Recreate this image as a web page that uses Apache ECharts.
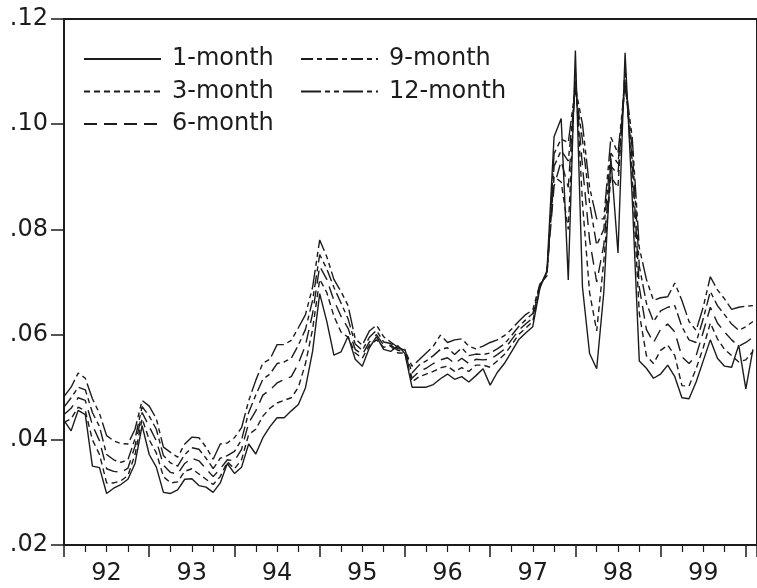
<!DOCTYPE html>
<html>
<head>
<meta charset="utf-8">
<script src="https://cdn.jsdelivr.net/npm/echarts@6/dist/echarts.min.js"></script>
<style>
  html, body { margin: 0; padding: 0; background: #fff; }
  #chart { width: 757px; height: 588px; }
</style>
</head>
<body>
<div id="chart"></div>
<script>
// monthly rates, Jan 1992 .. Feb 2000
var r1m = [
  0.0437,0.0417,0.0456,0.0448,0.0350,0.0347,0.0298,0.0308,0.0315,0.0325,0.0355,0.0427,
  0.0372,0.0348,0.0300,0.0298,0.0305,0.0325,0.0326,0.0313,0.0310,0.0300,0.0318,0.0355,
  0.0336,0.0348,0.0392,0.0373,0.0404,0.0425,0.0442,0.0442,0.0455,0.0467,0.0499,0.0568,
  0.0678,0.0625,0.0561,0.0567,0.0597,0.0553,0.0540,0.0575,0.0596,0.0572,0.0568,0.0579,
  0.0564,0.0500,0.0500,0.0500,0.0505,0.0516,0.0525,0.0515,0.0520,0.0510,0.0522,0.0535,
  0.0504,0.0528,0.0545,0.0567,0.0590,0.0603,0.0615,0.0688,0.0722,0.0976,0.1011,0.0704,
  0.1140,0.0690,0.0564,0.0535,0.0680,0.0935,0.0755,0.1136,0.0860,0.0550,0.0536,0.0517,
  0.0525,0.0542,0.0520,0.0480,0.0478,0.0510,0.0550,0.0590,0.0555,0.0540,0.0538,0.0580,
  0.0497,0.0572
];
var r3m = [
  0.0433,0.0440,0.0462,0.0455,0.0400,0.0372,0.0318,0.0318,0.0322,0.0332,0.0372,0.0440,
  0.0400,0.0375,0.0330,0.0318,0.0320,0.0340,0.0345,0.0335,0.0325,0.0315,0.0330,0.0358,
  0.0345,0.0362,0.0410,0.0420,0.0445,0.0460,0.0470,0.0475,0.0480,0.0500,0.0545,0.0610,
  0.0705,0.0680,0.0635,0.0605,0.0595,0.0565,0.0555,0.0580,0.0590,0.0576,0.0578,0.0565,
  0.0565,0.0510,0.0520,0.0525,0.0530,0.0537,0.0540,0.0530,0.0537,0.0530,0.0542,0.0542,
  0.0538,0.0550,0.0562,0.0580,0.0600,0.0612,0.0625,0.0690,0.0720,0.0900,0.0890,0.0800,
  0.1100,0.0850,0.0680,0.0607,0.0740,0.0900,0.0880,0.1105,0.0900,0.0640,0.0560,0.0545,
  0.0570,0.0580,0.0560,0.0503,0.0502,0.0535,0.0575,0.0622,0.0592,0.0572,0.0560,0.0548,
  0.0552,0.0568
];
var r6m = [
  0.0448,0.0460,0.0480,0.0475,0.0428,0.0398,0.0345,0.0340,0.0338,0.0346,0.0388,0.0452,
  0.0425,0.0398,0.0352,0.0338,0.0335,0.0355,0.0365,0.0360,0.0345,0.0330,0.0345,0.0362,
  0.0360,0.0382,0.0432,0.0455,0.0485,0.0495,0.0508,0.0515,0.0520,0.0545,0.0580,0.0640,
  0.0730,0.0705,0.0665,0.0635,0.0612,0.0572,0.0562,0.0586,0.0600,0.0580,0.0580,0.0570,
  0.0568,0.0517,0.0530,0.0536,0.0545,0.0552,0.0556,0.0545,0.0555,0.0545,0.0553,0.0552,
  0.0553,0.0562,0.0572,0.0590,0.0608,0.0620,0.0632,0.0692,0.0718,0.0882,0.0930,0.0880,
  0.1080,0.0920,0.0780,0.0700,0.0770,0.0920,0.0905,0.1085,0.0930,0.0690,0.0610,0.0585,
  0.0610,0.0620,0.0605,0.0558,0.0545,0.0560,0.0605,0.0652,0.0622,0.0605,0.0590,0.0578,
  0.0585,0.0595
];
var r9m = [
  0.0462,0.0480,0.0500,0.0495,0.0452,0.0425,0.0372,0.0362,0.0357,0.0362,0.0402,0.0463,
  0.0445,0.0420,0.0370,0.0356,0.0350,0.0372,0.0385,0.0382,0.0365,0.0345,0.0365,0.0370,
  0.0378,0.0400,0.0452,0.0485,0.0515,0.0525,0.0545,0.0548,0.0555,0.0580,0.0610,0.0665,
  0.0752,0.0725,0.0690,0.0660,0.0630,0.0582,0.0570,0.0595,0.0608,0.0586,0.0583,0.0573,
  0.0572,0.0527,0.0542,0.0550,0.0560,0.0572,0.0575,0.0562,0.0575,0.0560,0.0563,0.0562,
  0.0565,0.0573,0.0582,0.0598,0.0615,0.0628,0.0640,0.0694,0.0715,0.0920,0.0950,0.0930,
  0.1065,0.0970,0.0850,0.0770,0.0800,0.0945,0.0925,0.1075,0.0955,0.0730,0.0660,0.0625,
  0.0645,0.0652,0.0655,0.0615,0.0590,0.0585,0.0630,0.0682,0.0655,0.0638,0.0620,0.0608,
  0.0615,0.0625
];
var r12m = [
  0.0482,0.0500,0.0527,0.0517,0.0478,0.0450,0.0408,0.0398,0.0393,0.0392,0.0420,0.0475,
  0.0464,0.0440,0.0386,0.0376,0.0367,0.0392,0.0405,0.0404,0.0386,0.0363,0.0392,0.0394,
  0.0404,0.0423,0.0474,0.0513,0.0546,0.0553,0.0581,0.0581,0.0589,0.0613,0.0638,0.0690,
  0.0780,0.0748,0.0705,0.0682,0.0655,0.0592,0.0580,0.0607,0.0618,0.0596,0.0586,0.0576,
  0.0570,0.0540,0.0552,0.0565,0.0578,0.0599,0.0585,0.0590,0.0592,0.0578,0.0573,0.0578,
  0.0585,0.0590,0.0598,0.0610,0.0625,0.0638,0.0647,0.0696,0.0712,0.0944,0.0972,0.0965,
  0.1070,0.1000,0.0880,0.0820,0.0820,0.0975,0.0945,0.1080,0.0975,0.0765,0.0705,0.0665,
  0.0670,0.0672,0.0698,0.0665,0.0625,0.0608,0.0652,0.0710,0.0685,0.0668,0.0648,0.0652,
  0.0654,0.0655
];
var names = ['1-month', '3-month', '6-month', '9-month', '12-month'];
var yearLabels = ['92', '93', '94', '95', '96', '97', '98', '99'];
var yTicks = [0.02, 0.04, 0.06, 0.08, 0.10, 0.12];

var startYear = 1992;
var ink = '#1c1c1c';
var font = 'DejaVu Sans';
// dash patterns per maturity
var dashes = ['solid', [6, 4], [13, 7], [12, 4, 5, 4], [20, 4, 5, 4, 5, 4]];

function toPoints(arr) {
  var pts = [];
  for (var i = 0; i < arr.length; i++) {
    pts.push([startYear + i / 12, arr[i]]);
  }
  return pts;
}

var chart = echarts.init(document.getElementById('chart'), null, { renderer: 'canvas' });

var allRates = [r1m, r3m, r6m, r9m, r12m];
var series = allRates.map(function (arr, k) {
  return {
    name: names[k],
    type: 'line',
    data: toPoints(arr),
    symbol: 'none',
    showSymbol: false,
    silent: true,
    animation: false,
    lineStyle: { color: ink, width: 1.4, type: dashes[k] }
  };
});

var legendBase = {
  orient: 'vertical',
  top: 47,
  padding: 0,
  itemWidth: 77,
  itemHeight: 14,
  itemGap: 8.5,
  selectedMode: false,
  itemStyle: { opacity: 0 },
  textStyle: { fontFamily: font, fontSize: 24, color: ink, padding: [0, 0, 0, 6] }
};

var option = {
  backgroundColor: '#fff',
  animation: false,
  color: [ink, ink, ink, ink, ink],
  grid: {
    left: 64, right: -3, top: 19, bottom: 43,
    show: true, borderColor: ink, borderWidth: 2
  },
  legend: [
    Object.assign({}, legendBase, { left: 83, data: names.slice(0, 3) }),
    Object.assign({}, legendBase, { left: 300, data: names.slice(3) })
  ],
  xAxis: [
    {
      type: 'value',
      min: startYear,
      max: 2000.131,
      interval: 1,
      axisLine: { show: true, lineStyle: { color: ink, width: 2 } },
      axisTick: { show: true, inside: false, length: 12, lineStyle: { color: ink, width: 1.5 } },
      minorTick: { show: true, splitNumber: 4, length: 7, lineStyle: { color: ink, width: 1.2 } },
      axisLabel: { show: false },
      splitLine: { show: false }
    },
    {
      type: 'value',
      position: 'bottom',
      min: startYear,
      max: 2000.131,
      interval: 0.5,
      axisLine: { show: false },
      axisTick: { show: false },
      splitLine: { show: false },
      axisLabel: {
        margin: 17,
        fontFamily: font,
        fontSize: 24,
        color: ink,
        showMaxLabel: false,
        formatter: function (v) {
          var yr = Math.floor(v + 1e-6);
          if (Math.abs(v - yr - 0.5) > 1e-6) return '';
          var idx = yr - startYear;
          return yearLabels[idx] || '';
        }
      }
    }
  ],
  yAxis: {
    type: 'value',
    min: yTicks[0],
    max: yTicks[yTicks.length - 1],
    interval: 0.02,
    axisLine: { show: true, lineStyle: { color: ink, width: 2 } },
    axisTick: { show: true, inside: false, length: 13, lineStyle: { color: ink, width: 1.5 } },
    splitLine: { show: false },
    axisLabel: {
      margin: 16,
      fontFamily: font,
      fontSize: 24,
      color: ink,
      formatter: function (v) { return v.toFixed(2).slice(1); }
    }
  },
  series: series
};

chart.setOption(option);
</script>
</body>
</html>
